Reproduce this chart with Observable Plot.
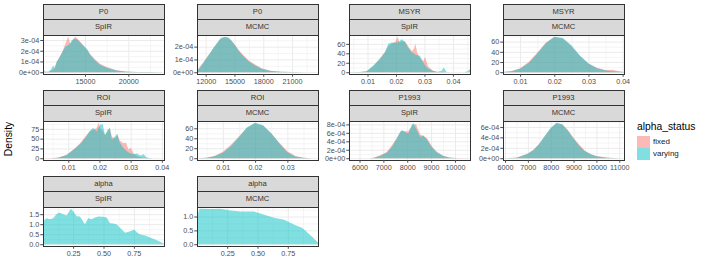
<!DOCTYPE html>
<html><head><meta charset="utf-8">
<script src="https://cdn.jsdelivr.net/npm/d3@7"></script>
<script src="https://cdn.jsdelivr.net/npm/@observablehq/plot@0.6"></script>
<style>
body{margin:0;background:#fff;}
#chart{position:relative;width:705px;height:273px;font-family:"Liberation Sans",Arial,sans-serif;overflow:hidden;background:#fff;}
.strip{position:absolute;box-sizing:border-box;background:#D9D9D9;border:1px solid #333333;color:#333333;font-size:7.6px;font-weight:400;display:flex;align-items:center;justify-content:center;line-height:1;}
.pan{position:absolute;}
.pan svg{overflow:visible;background:none;}
.txt{position:absolute;white-space:nowrap;line-height:1;font-weight:400;}
</style></head><body><div id="chart"></div>
<script>
// ---------- data ----------
const statuses = ["fixed", "varying"];
const statusColors = ["#F8766D", "#00BFC4"];

const P0_SpIR_x = [10150,10400,10800,11100,11340,11500,11730,12110,12490,12750,13070,13300,13460,13600,13850,14230,14620,15000,15300,15580,16160,16730,17510,18660,19820,21000,22500,24120];
const P0_SpIR_fixed = [0.05e-4,0.05e-4,0.05e-4,0.15e-4,0.25e-4,0.5e-4,0.9e-4,1.5e-4,2.1e-4,2.7e-4,3.3e-4,2.6e-4,2.8e-4,3.0e-4,3.3e-4,3.05e-4,2.7e-4,2.3e-4,2.0e-4,1.7e-4,1.2e-4,0.78e-4,0.48e-4,0.18e-4,0.06e-4,0.02e-4,0.01e-4,0];
const P0_SpIR_varying = [0.25e-4,0.05e-4,0.05e-4,0.3e-4,0.65e-4,0.3e-4,1.0e-4,1.45e-4,2.05e-4,2.4e-4,2.5e-4,2.75e-4,2.95e-4,3.05e-4,3.15e-4,2.95e-4,2.6e-4,2.35e-4,2.1e-4,1.65e-4,1.1e-4,0.7e-4,0.42e-4,0.15e-4,0.05e-4,0.02e-4,0.01e-4,0];

const P0_MCMC_x = [11100,11400,11760,12100,12460,12800,13170,13450,13690,14040,14390,14650,14920,15200,15440,15700,15970,16500,17200,17900,18800,19850,21000,22500,23700];
const P0_MCMC_fixed = [0.15e-4,0.42e-4,0.78e-4,1.15e-4,1.5e-4,1.88e-4,2.24e-4,2.52e-4,2.68e-4,2.74e-4,2.68e-4,2.5e-4,2.27e-4,2.0e-4,1.75e-4,1.52e-4,1.3e-4,0.92e-4,0.58e-4,0.3e-4,0.12e-4,0.04e-4,0.012e-4,0.004e-4,0];
const P0_MCMC_varying = [0.08e-4,0.35e-4,0.72e-4,1.1e-4,1.49e-4,1.9e-4,2.27e-4,2.55e-4,2.72e-4,2.77e-4,2.7e-4,2.5e-4,2.25e-4,1.95e-4,1.68e-4,1.45e-4,1.22e-4,0.84e-4,0.5e-4,0.25e-4,0.1e-4,0.03e-4,0.01e-4,0.003e-4,0];

const MSYR_SpIR_x = [0.0035,0.0074,0.0097,0.012,0.0144,0.0161,0.0173,0.0185,0.0198,0.0206,0.0213,0.022,0.0232,0.0243,0.0255,0.0262,0.0268,0.0275,0.0284,0.0296,0.0302,0.0313,0.033,0.0345,0.036,0.0368,0.0377,0.039,0.044,0.0452,0.046];
const MSYR_SpIR_fixed = [0,0.5,2,12,30,42,55,60,65,75,62,66,65,55,45,48,60,40,30,24,32,12,3,1,0.5,0.3,0.2,0,0,0,0];
const MSYR_SpIR_varying = [0,0.5,2,14,28,42,60,63,62,64,66,70,64,52,42,40,37,36,35,20,15,8,3,0.5,3,10,1,0,0,2,7];

const MSYR_MCMC_x = [0.005,0.0075,0.01,0.0125,0.015,0.0175,0.02,0.0225,0.025,0.0275,0.03,0.0325,0.035,0.037,0.0385,0.0404];
const MSYR_MCMC_fixed = [0.5,2.5,8,20,38,58,69,66,51,32,17,9,4.5,5,2.5,0.5];
const MSYR_MCMC_varying = [0.3,2,7,18,36,57,69.5,67,53,33,17,8,3.5,2,1.2,0.5];

const ROI_SpIR_x = [0.0019,0.0047,0.0068,0.0095,0.0122,0.0138,0.0154,0.017,0.018,0.0191,0.0198,0.0202,0.021,0.0218,0.0226,0.0233,0.024,0.0251,0.0257,0.0265,0.0277,0.0285,0.0293,0.03,0.031,0.032,0.0331,0.0342,0.0352,0.037,0.0407];
const ROI_SpIR_fixed = [0,0.5,2,9,26,38,55,70,72,78,90.5,75,70,60,68,78,55,50,62,45,38,40,22,27,12,6,3,1.5,1,0,0];
const ROI_SpIR_varying = [0,0,1,8,25,36,51,70,78,68,80,84,88,58,72,77,47,56,62,40,26,20,15,12,10,12,7,10,1,0,0];

const ROI_MCMC_x = [0.002,0.005,0.0075,0.01,0.0125,0.015,0.0175,0.02,0.0225,0.025,0.0275,0.03,0.0325,0.035,0.0375,0.0395];
const ROI_MCMC_fixed = [0.2,1.2,5,13,27,44,61,70,65,50,31,14,4.5,1,0.2,0];
const ROI_MCMC_varying = [0,0.8,4,11,24,42,62,71,66,50,30,12,3.5,0.8,0.1,0];

const P1993_SpIR_x = [5560,6440,6580,6860,7140,7350,7560,7700,7770,7910,8040,8190,8250,8370,8540,8670,8820,9030,9230,9510,9790,10100,10630];
const P1993_SpIR_fixed = [0,0.02e-4,0.1e-4,0.7e-4,1.5e-4,3.0e-4,4.8e-4,6.1e-4,6.5e-4,6.4e-4,6.3e-4,7.6e-4,7.9e-4,8.1e-4,5.6e-4,5.3e-4,4.8e-4,2.9e-4,1.6e-4,0.6e-4,0.15e-4,0.03e-4,0];
const P1993_SpIR_varying = [0,0,0.05e-4,0.5e-4,1.3e-4,2.6e-4,4.6e-4,6.2e-4,6.6e-4,6.2e-4,5.8e-4,7.8e-4,8.38e-4,7.0e-4,5.0e-4,5.4e-4,4.5e-4,2.6e-4,1.4e-4,0.5e-4,0.1e-4,0.02e-4,0];

const P1993_MCMC_x = [5912,6500,7000,7250,7500,7750,8000,8250,8500,8750,9000,9250,9500,9750,10000,10500,11000,11207];
const P1993_MCMC_fixed = [0,0.1e-4,0.9e-4,1.65e-4,2.8e-4,4.3e-4,5.75e-4,6.7e-4,6.5e-4,5.4e-4,3.95e-4,2.6e-4,1.45e-4,0.8e-4,0.45e-4,0.1e-4,0.015e-4,0];
const P1993_MCMC_varying = [0,0.08e-4,0.85e-4,1.6e-4,2.8e-4,4.3e-4,5.8e-4,6.8e-4,6.5e-4,5.3e-4,3.75e-4,2.4e-4,1.35e-4,0.75e-4,0.4e-4,0.08e-4,0.01e-4,0];

const alpha_SpIR_x = [0.002,0.031,0.058,0.085,0.113,0.135,0.168,0.196,0.231,0.25,0.279,0.306,0.347,0.374,0.402,0.43,0.457,0.498,0.526,0.554,0.581,0.609,0.65,0.678,0.719,0.752,0.779,0.802,0.843,0.884,0.94,0.998];
const alpha_SpIR_varying = [1.15,1.3,1.25,1.3,1.5,1.58,1.5,1.43,1.77,1.65,1.4,1.38,1.0,1.3,1.25,1.33,1.38,1.37,1.33,1.05,1.03,0.98,0.73,0.57,0.65,0.73,0.57,0.49,0.44,0.33,0.2,0.02];

const alpha_MCMC_x = [0.001,0.01,0.022,0.05,0.1,0.137,0.19,0.275,0.36,0.47,0.55,0.635,0.72,0.8,0.87,0.93,0.999];
const alpha_MCMC_varying = [0.65,1.12,1.28,1.28,1.27,1.27,1.28,1.22,1.18,1.18,1.07,0.96,0.88,0.71,0.59,0.35,0.06];

// tick values
const P0_SpIR_xticks = [15000, 20000];
const P0_MCMC_xticks = [12000, 15000, 18000, 21000];
const MSYR_SpIR_xticks = [0.01, 0.02, 0.03, 0.04];
const MSYR_MCMC_xticks = [0.01, 0.02, 0.03, 0.04];
const ROI_SpIR_xticks = [0.01, 0.02, 0.03, 0.04];
const ROI_MCMC_xticks = [0.01, 0.02, 0.03];
const P1993_SpIR_xticks = [6000, 7000, 8000, 9000, 10000];
const P1993_MCMC_xticks = [6000, 7000, 8000, 9000, 10000, 11000];
const alpha_xticks = [0.25, 0.5, 0.75];

const P0_SpIR_yticks = [0, 1e-4, 2e-4, 3e-4];
const P0_MCMC_yticks = [0, 1e-4, 2e-4];
const MSYR_yticks = [0, 20, 40, 60];
const ROI_SpIR_yticks = [0, 25, 50, 75];
const ROI_MCMC_yticks = [0, 20, 40, 60];
const P1993_SpIR_yticks = [0, 2e-4, 4e-4, 6e-4, 8e-4];
const P1993_MCMC_yticks = [0, 2e-4, 4e-4, 6e-4];
const alpha_SpIR_yticks = [0, 0.5, 1.0, 1.5];
const alpha_MCMC_yticks = [0, 0.5, 1.0];

// ---------- formats ----------
const sci = d => d.toExponential(0).replace(/e([+-])(\d)$/, "e$10$2");
const plain = d => String(d);
const f2 = d3.format(".2f");
const f1 = d3.format(".1f");

const panels = [
  {v:"P0", m:"SpIR", r:0, c:0, x:P0_SpIR_x, fixed:P0_SpIR_fixed, varying:P0_SpIR_varying, xt:P0_SpIR_xticks, yt:P0_SpIR_yticks, xf:plain, yf:sci},
  {v:"P0", m:"MCMC", r:0, c:1, x:P0_MCMC_x, fixed:P0_MCMC_fixed, varying:P0_MCMC_varying, xt:P0_MCMC_xticks, yt:P0_MCMC_yticks, xf:plain, yf:sci},
  {v:"MSYR", m:"SpIR", r:0, c:2, x:MSYR_SpIR_x, fixed:MSYR_SpIR_fixed, varying:MSYR_SpIR_varying, xt:MSYR_SpIR_xticks, yt:MSYR_yticks, xf:plain, yf:plain},
  {v:"MSYR", m:"MCMC", r:0, c:3, x:MSYR_MCMC_x, fixed:MSYR_MCMC_fixed, varying:MSYR_MCMC_varying, xt:MSYR_MCMC_xticks, yt:MSYR_yticks, xf:plain, yf:plain},
  {v:"ROI", m:"SpIR", r:1, c:0, x:ROI_SpIR_x, fixed:ROI_SpIR_fixed, varying:ROI_SpIR_varying, xt:ROI_SpIR_xticks, yt:ROI_SpIR_yticks, xf:plain, yf:plain},
  {v:"ROI", m:"MCMC", r:1, c:1, x:ROI_MCMC_x, fixed:ROI_MCMC_fixed, varying:ROI_MCMC_varying, xt:ROI_MCMC_xticks, yt:ROI_MCMC_yticks, xf:plain, yf:plain},
  {v:"P1993", m:"SpIR", r:1, c:2, x:P1993_SpIR_x, fixed:P1993_SpIR_fixed, varying:P1993_SpIR_varying, xt:P1993_SpIR_xticks, yt:P1993_SpIR_yticks, xf:plain, yf:sci},
  {v:"P1993", m:"MCMC", r:1, c:3, x:P1993_MCMC_x, fixed:P1993_MCMC_fixed, varying:P1993_MCMC_varying, xt:P1993_MCMC_xticks, yt:P1993_MCMC_yticks, xf:plain, yf:sci},
  {v:"alpha", m:"SpIR", r:2, c:0, x:alpha_SpIR_x, fixed:null, varying:alpha_SpIR_varying, xt:alpha_xticks, yt:alpha_SpIR_yticks, xf:f2, yf:f1},
  {v:"alpha", m:"MCMC", r:2, c:1, x:alpha_MCMC_x, fixed:null, varying:alpha_MCMC_varying, xt:alpha_xticks, yt:alpha_MCMC_yticks, xf:f2, yf:f1}
];

// ---------- layout ----------
const colLeft = [43, 197, 349, 503];
const rowTop = [35, 121, 207];
const PW = 121, PH = 39;
const ML = 42, MR = 2, MT = 2, MB = 16;
const FONT = '"Liberation Sans", Arial, sans-serif';
const FS = 7.2;
const chart = document.getElementById("chart");

function minors(ticks, domain) {
  const step = ticks.length > 1 ? ticks[1] - ticks[0] : ticks[0];
  const cands = [ticks[0] - step / 2, ...ticks.map(t => t + step / 2)];
  return cands.filter(t => t > domain[0] && t < domain[1]);
}

for (const p of panels) {
  const left = colLeft[p.c], top = rowTop[p.r];
  const rows = [];
  [p.fixed, p.varying].forEach((ys, k) => {
    if (ys) p.x.forEach((x, i) => rows.push({x, y: ys[i], s: statuses[k]}));
  });
  const M = d3.max(rows, d => d.y);
  const xd = d3.extent(p.x);
  const yd = [-0.05 * M, 1.05 * M];
  const xt = p.xt.filter(t => t >= xd[0] && t <= xd[1]);
  const yt = p.yt.filter(t => t >= yd[0] && t <= yd[1]);
  const marks = [
    Plot.ruleX(minors(xt, xd), {stroke: "#EBEBEB", strokeWidth: 0.5}),
    Plot.ruleY(minors(yt, yd), {stroke: "#EBEBEB", strokeWidth: 0.5}),
    Plot.ruleX(xt, {stroke: "#EBEBEB", strokeWidth: 1}),
    Plot.ruleY(yt, {stroke: "#EBEBEB", strokeWidth: 1})
  ];
  statuses.forEach((s, k) => {
    const d = rows.filter(r => r.s === s);
    if (d.length) marks.push(Plot.areaY(d, {x: "x", y: "y", fill: statusColors[k], fillOpacity: 0.5}));
  });
  marks.push(
    Plot.frame({stroke: "#333333", strokeWidth: 1}),
    Plot.axisX(xt, {label: null, tickSize: 2.75, tickPadding: 1.5, color: "#4D4D4D", fontSize: FS, tickFormat: p.xf}),
    Plot.axisY(yt, {label: null, tickSize: 2.75, tickPadding: 1.5, color: "#4D4D4D", fontSize: FS, tickFormat: p.yf})
  );
  const svg = Plot.plot({
    width: PW + ML + MR, height: PH + MT + MB,
    marginLeft: ML, marginRight: MR, marginTop: MT, marginBottom: MB,
    x: {domain: xd, label: null}, y: {domain: yd, label: null},
    style: {fontFamily: FONT, fontSize: FS + "px", background: "none", overflow: "visible"},
    marks
  });
  const holder = document.createElement("div");
  holder.className = "pan";
  holder.style.left = (left - ML) + "px";
  holder.style.top = (top - MT) + "px";
  holder.appendChild(svg);
  chart.appendChild(holder);

  // facet strips
  [[p.v, top - 31, 16], [p.m, top - 16, 16.5]].forEach(([label, y, h]) => {
    const s = document.createElement("div");
    s.className = "strip";
    s.style.left = (left - 0.5) + "px";
    s.style.width = (PW + 1) + "px";
    s.style.top = y + "px";
    s.style.height = h + "px";
    s.textContent = label;
    chart.appendChild(s);
  });
}

// y-axis title
const ytitle = document.createElement("div");
ytitle.className = "txt";
ytitle.textContent = "Density";
ytitle.style.cssText += "left:8.5px;top:139px;font-size:10.3px;color:#000;transform:translate(-50%,-50%) rotate(-90deg);";
chart.appendChild(ytitle);

// legend
const lt = document.createElement("div");
lt.className = "txt";
lt.textContent = "alpha_status";
lt.style.cssText += "left:637px;top:121.5px;font-size:10.3px;color:#000;";
chart.appendChild(lt);
statuses.forEach((s, k) => {
  const key = document.createElement("div");
  key.style.cssText = `position:absolute;left:637px;top:${136 + k * 12}px;width:13px;height:12px;background:${statusColors[k]};opacity:0.5;`;
  chart.appendChild(key);
  const lab = document.createElement("div");
  lab.className = "txt";
  lab.textContent = s;
  lab.style.cssText += `left:653px;top:${138.2 + k * 12}px;font-size:8px;color:#1A1A1A;`;
  chart.appendChild(lab);
});
</script></body></html>
